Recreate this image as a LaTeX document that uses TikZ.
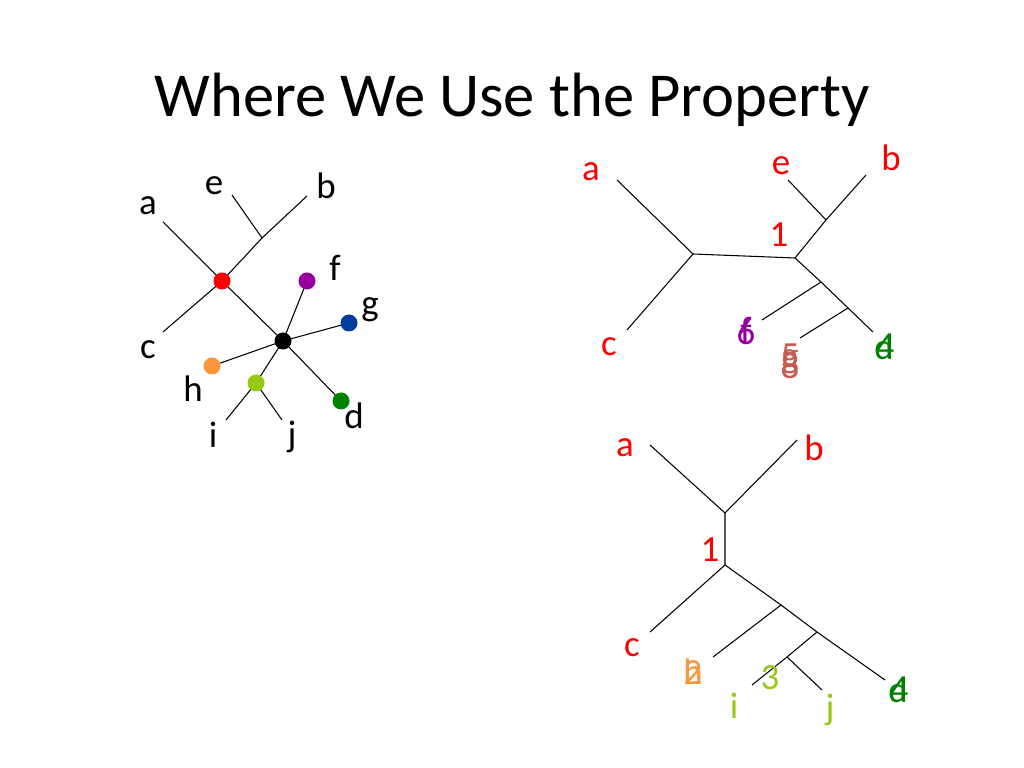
\documentclass[tikz,border=0pt]{standalone}
\usepackage{fontspec}
\setmainfont{Carlito}
\definecolor{fpurple}{RGB}{150,0,160}
\definecolor{gblue}{RGB}{0,60,160}
\definecolor{horange}{RGB}{250,150,60}
\definecolor{ilime}{RGB}{150,200,20}
\definecolor{dgreen}{RGB}{0,130,0}
\definecolor{brick}{RGB}{200,90,80}
\tikzset{
  dot/.style={circle,fill=#1,inner sep=0pt,minimum size=1.7mm},
  lbl/.style={font=\fontsize{10.5}{12}\selectfont,text=#1,inner sep=0pt},
  lbl/.default=black
}
\begin{document}
\begin{tikzpicture}[x=0.1mm,y=-0.1mm,line width=0.3pt]
\useasboundingbox (0,0) rectangle (1024,768);
\node at (512,100) {\fontsize{17.8}{20}\selectfont Where We Use the Property};

% left tree
\coordinate (ea) at (163,222); \coordinate (ec) at (163,332);
\coordinate (eb) at (307,196); \coordinate (ee) at (232,195);
\coordinate (ebe) at (262,238);
\coordinate (ei) at (226,420); \coordinate (ej) at (282,420);
\draw (ea) -- (222,281) -- (ec);
\draw (222,281) -- (ebe) -- (eb);
\draw (ebe) -- (ee);
\draw (222,281) -- (283,341);
\foreach \p in {(307,281),(349,323),(212,366),(341,401),(256,383)}
  \draw (283,341) -- \p;
\draw (ei) -- (256,383) -- (ej);
\node[dot=red] (r) at (222,281) {};
\node[dot=black] (k) at (283,341) {};
\node[dot=fpurple] at (307,281) {};
\node[dot=gblue] at (349,323) {};
\node[dot=horange] at (212,366) {};
\node[dot=dgreen] at (341,401) {};
\node[dot=ilime] at (256,383) {};
\foreach \t/\x/\y in {a/148/206,e/214/186,b/326/186,f/335/268,g/370/310,c/148/350,h/193/389,i/213/435,d/354/416,j/292/437}
  \node[lbl] at (\x,\y) {\t};

% top right tree
\draw (617,180) -- (693,254) -- (627,330);
\draw (693,254) -- (795,258) -- (826,220) -- (866,175);
\draw (826,220) -- (788,180);
\draw (795,258) -- (821,282) -- (873,332);
\draw (821,282) -- (762,320);
\draw (848,308) -- (800,338);
\node[lbl=red] at (779,235) {1};
\node[lbl=red] at (591,172) {a};
\node[lbl=red] at (781,166) {e};
\node[lbl=red] at (891,158) {b};
\node[lbl=red] at (609,347) {c};
\node[lbl=fpurple] at (746,330) {f};
\node[lbl=fpurple] at (746,332) {6};
\node[lbl=brick] at (790,356) {5};
\node[lbl=brick] at (790,362) {g};
\node[lbl=brick] at (790,366) {8};
\node[lbl=dgreen] at (884,347) {d};
\node[lbl=dgreen] at (885,347) {4};

% bottom right tree
\draw (650,445) -- (725,513) -- (797,440);
\draw (725,513) -- (725,565) -- (650,632);
\draw (725,565) -- (781,605) -- (713,657);
\draw (781,605) -- (817,632) -- (885,680);
\draw (817,632) -- (787,657);
\draw (752,685) -- (787,657) -- (822,690);
\node[lbl=red] at (710,550) {1};
\node[lbl=red] at (625,448) {a};
\node[lbl=red] at (814,448) {b};
\node[lbl=red] at (632,648) {c};
\node[lbl=horange] at (693,672) {h};
\node[lbl=horange] at (693,673) {2};
\node[lbl=ilime] at (770,678) {3};
\node[lbl=ilime] at (734,706) {i};
\node[lbl=ilime] at (830,710) {j};
\node[lbl=dgreen] at (898,690) {d};
\node[lbl=dgreen] at (899,690) {4};
\end{tikzpicture}
\end{document}
